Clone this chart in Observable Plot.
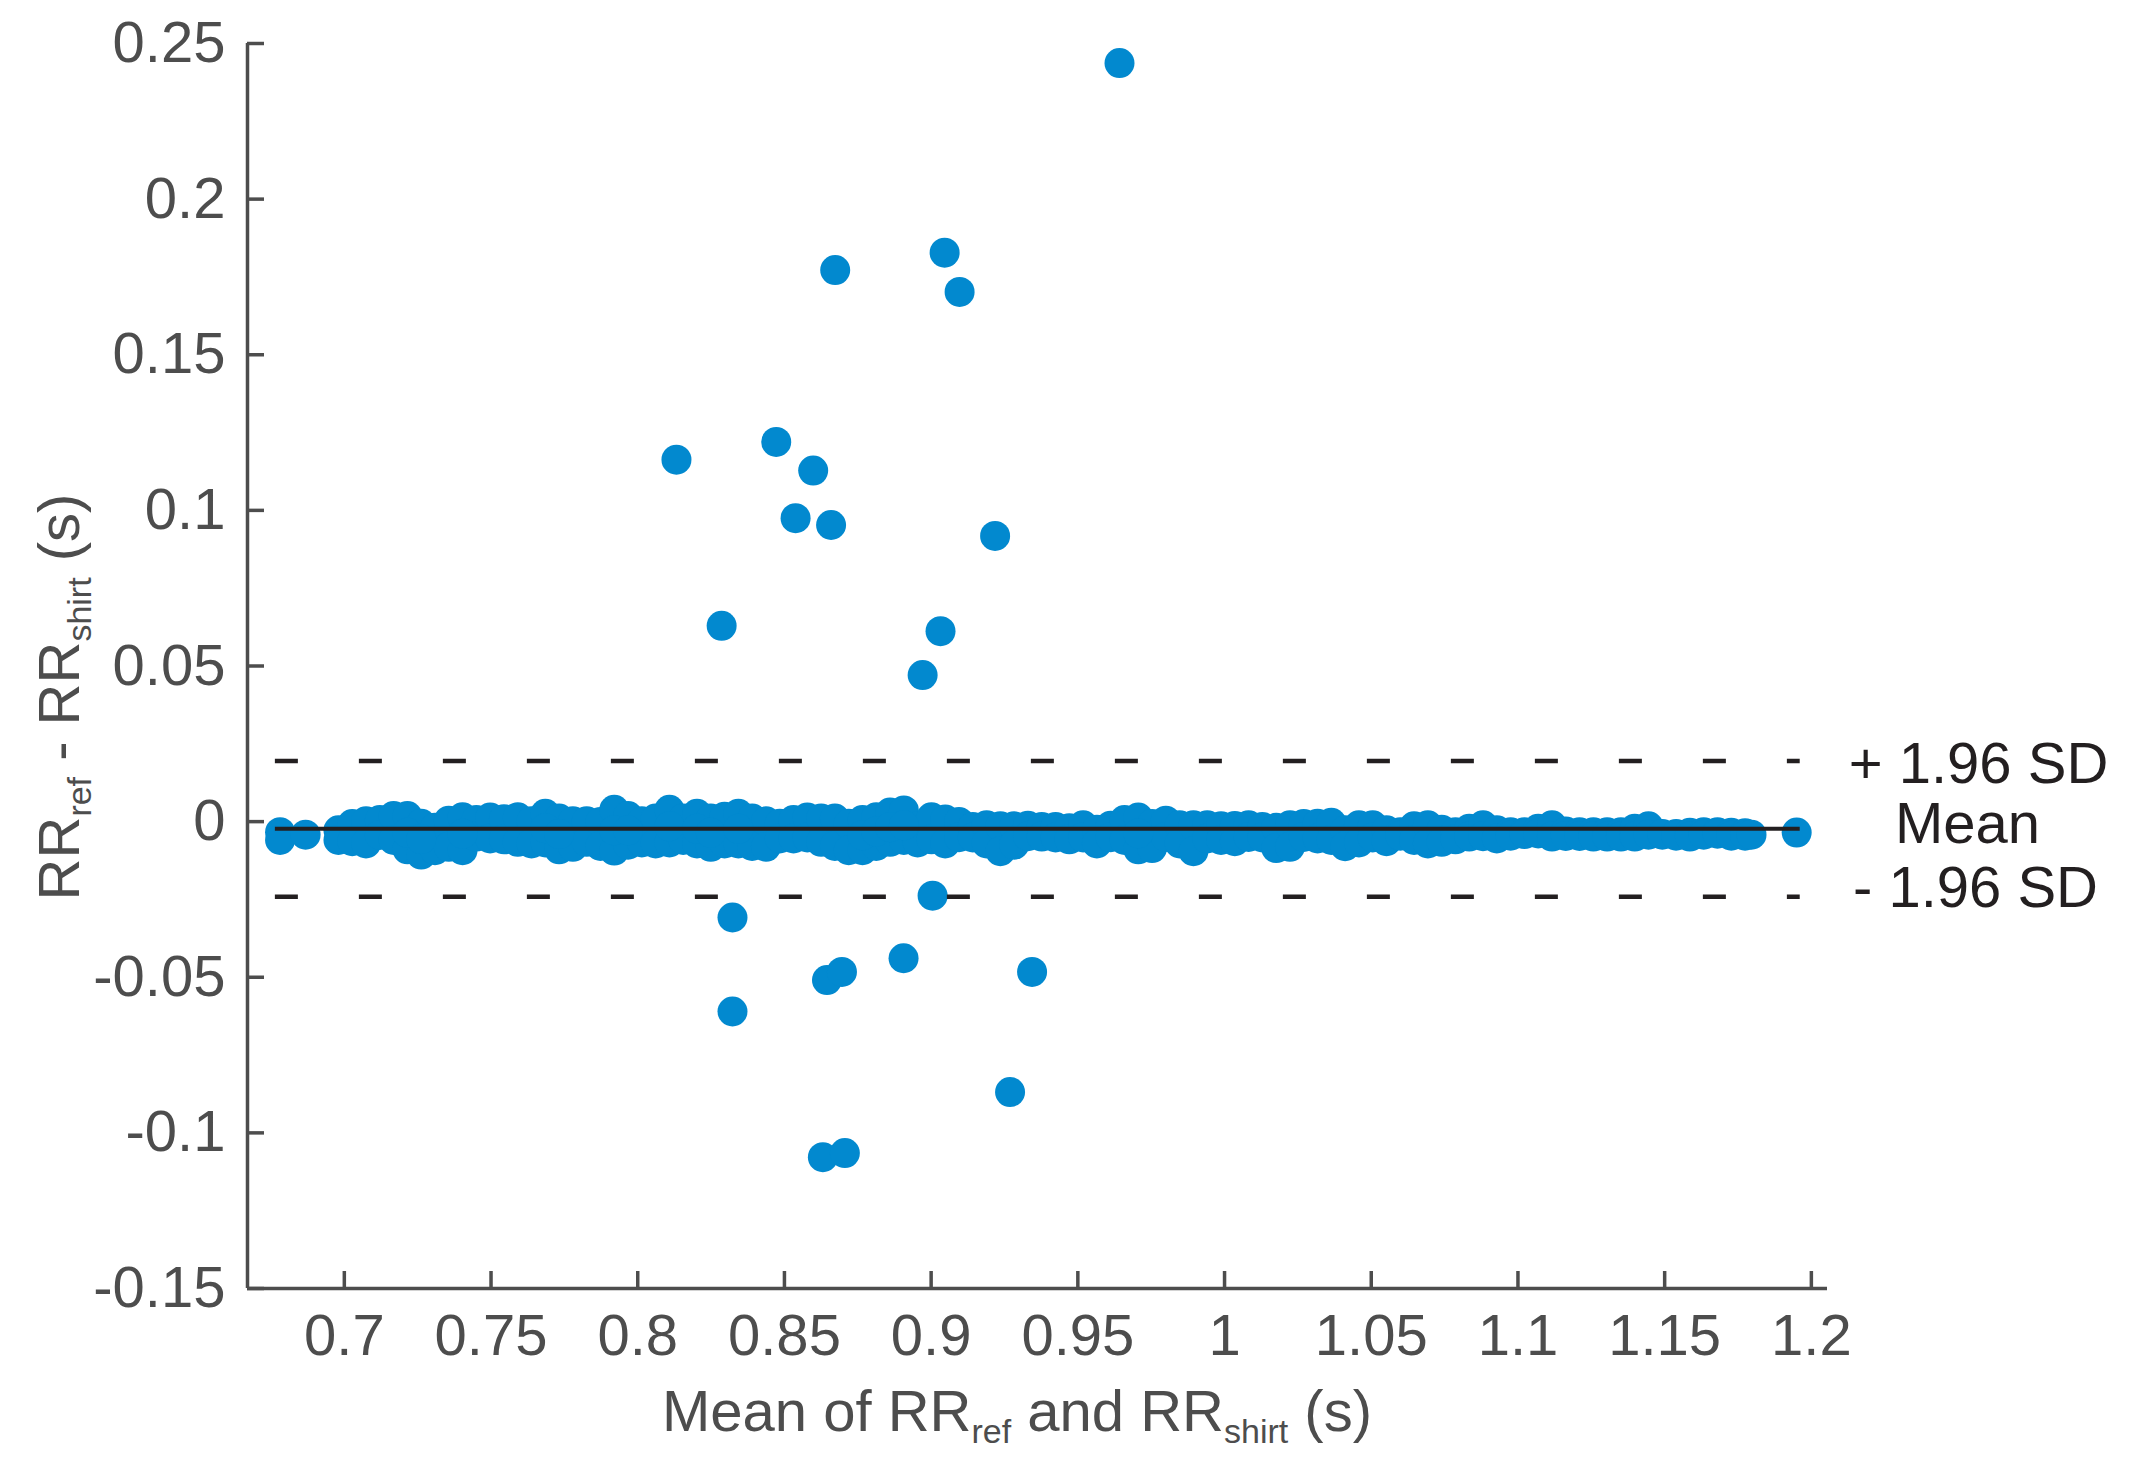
<!DOCTYPE html>
<html><head><meta charset="utf-8">
<script src="https://cdn.jsdelivr.net/npm/d3@7"></script>
<script src="https://cdn.jsdelivr.net/npm/@observablehq/plot@0.6"></script>
<style>html,body{margin:0;padding:0;background:#fff;}</style>
</head><body><div id="chart"></div>
<script>
// Axis settings
const xDomain = [0.667, 1.2055];
const yDomain = [-0.15, 0.25];
const xTicks = [0.7, 0.75, 0.8, 0.85, 0.9, 0.95, 1, 1.05, 1.1, 1.15, 1.2];
const yTicks = [-0.15, -0.1, -0.05, 0, 0.05, 0.1, 0.15, 0.2, 0.25];

// Bland-Altman lines
const meanDiff = -0.0023;
const upperLoA = 0.0195;
const lowerLoA = -0.0241;
const lineX = [0.6765, 1.1962];

// Outlying points
const outX = [0.9642,0.9046,0.8673,0.9097,0.8472,0.8132,0.8598,0.8538,0.8659,0.9218,0.8286,0.9032,0.8971,0.9005,0.8323,0.8645,0.8696,0.8906,0.9344,0.8323,0.9269,0.8631,0.8706];
const outY = [0.2437,0.1828,0.1772,0.1702,0.1220,0.1163,0.1128,0.0975,0.0953,0.0918,0.0629,0.0612,0.0471,-0.0238,-0.0308,-0.0509,-0.0483,-0.0439,-0.0483,-0.0610,-0.0869,-0.1078,-0.1065];

// Dense band of points near zero (upper and lower edge of the band)
const bandX = [
0.6980,0.7027,0.7074,0.7121,0.7168,0.7215,0.7262,0.7309,0.7356,0.7403,
0.7450,0.7497,0.7544,0.7591,0.7638,0.7685,0.7732,0.7779,0.7826,0.7873,
0.7920,0.7967,0.8014,0.8061,0.8108,0.8155,0.8202,0.8249,0.8296,0.8343,
0.8390,0.8437,0.8484,
0.8531,0.8578,0.8625,0.8672,0.8719,0.8766,0.8813,0.8860,0.8907,0.8954,
0.9001,0.9048,0.9095,0.9142,0.9189,0.9236,0.9283,0.9330,0.9377,0.9424,
0.9471,0.9518,0.9565,0.9612,0.9659,0.9706,0.9753,0.9800,0.9847,0.9894,
0.9941,0.9988,1.0035,1.0082,1.0129,1.0176,1.0223,1.0270,1.0317,
1.0364,1.0411,1.0458,1.0505,1.0552,1.0599,1.0646,1.0693,1.0740,1.0787,
1.0834,1.0881,1.0928,1.0975,1.1022,1.1069,1.1116,1.1163,1.1210,1.1257,
1.1304,1.1351,1.1398,1.1445,1.1492,1.1539,1.1586,1.1633,1.1680,1.1727,
1.1774];
const bandTop = [
-0.0028,-0.0008,0.0001,0.0005,0.0018,0.0018,-0.0007,-0.0020,0.0003,0.0014,
0.0005,0.0013,0.0008,0.0014,0.0001,0.0025,0.0010,0.0001,0.0001,-0.0001,
0.0038,0.0018,0.0001,0.0010,0.0038,0.0010,0.0025,0.0010,0.0016,0.0025,
0.0010,0.0001,-0.0007,
0.0005,0.0013,0.0010,0.0010,-0.0007,0.0005,0.0014,0.0029,0.0036,-0.0015,
0.0014,0.0007,-0.0001,-0.0017,-0.0012,-0.0015,-0.0015,-0.0013,-0.0017,-0.0017,
-0.0021,-0.0012,-0.0026,-0.0013,0.0005,0.0013,-0.0008,0.0003,-0.0012,-0.0012,
-0.0012,-0.0015,-0.0014,-0.0012,-0.0017,-0.0020,-0.0012,-0.0008,-0.0007,
-0.0004,-0.0028,-0.0012,-0.0012,-0.0028,-0.0034,-0.0015,-0.0012,-0.0026,-0.0034,
-0.0023,-0.0012,-0.0028,-0.0034,-0.0034,-0.0023,-0.0012,-0.0032,-0.0034,-0.0034,
-0.0034,-0.0034,-0.0023,-0.0015,-0.0042,-0.0040,-0.0036,-0.0034,-0.0034,-0.0036,
-0.0037];
const bandBottom = [
-0.0059,-0.0063,-0.0070,-0.0043,-0.0059,-0.0089,-0.0106,-0.0092,-0.0081,-0.0092,
-0.0048,-0.0054,-0.0057,-0.0065,-0.0070,-0.0067,-0.0089,-0.0081,-0.0065,-0.0078,
-0.0093,-0.0074,-0.0067,-0.0070,-0.0067,-0.0059,-0.0070,-0.0081,-0.0070,-0.0070,
-0.0078,-0.0081,-0.0054,
-0.0054,-0.0051,-0.0065,-0.0078,-0.0092,-0.0092,-0.0078,-0.0065,-0.0059,-0.0067,
-0.0057,-0.0070,-0.0050,-0.0051,-0.0070,-0.0095,-0.0074,-0.0047,-0.0048,-0.0051,
-0.0057,-0.0051,-0.0070,-0.0050,-0.0059,-0.0089,-0.0085,-0.0049,-0.0070,-0.0095,
-0.0054,-0.0059,-0.0063,-0.0049,-0.0051,-0.0085,-0.0081,-0.0049,-0.0054,
-0.0059,-0.0079,-0.0067,-0.0051,-0.0063,-0.0045,-0.0059,-0.0070,-0.0065,-0.0057,
-0.0048,-0.0047,-0.0054,-0.0045,-0.0040,-0.0038,-0.0048,-0.0046,-0.0046,-0.0048,
-0.0048,-0.0048,-0.0048,-0.0042,-0.0040,-0.0045,-0.0048,-0.0042,-0.0039,-0.0045,
-0.0045];
// Points inside the thicker parts of the band
const midX = [0.7215,0.7262,0.7403,0.7685,0.7732,0.7920,0.7967,0.8108,0.8202,0.8249,0.8343,0.8766,0.8813,0.8860,0.8907,0.9706];
const midY = [-0.0036,-0.0056,-0.0039,-0.0021,-0.0040,-0.0028,-0.0028,-0.0015,-0.0023,-0.0036,-0.0023,-0.0044,-0.0032,-0.0018,-0.0012,-0.0038];
// Points at both ends of the band
const edgeX = [0.6781, 0.6781, 0.6868, 1.1796, 1.1950];
const edgeY = [-0.0034, -0.0059, -0.0042, -0.0042, -0.0035];

const labelUpper = "+ 1.96 SD";
const labelMean = "Mean";
const labelLower = "- 1.96 SD";

// Build the point table
const points = [];
bandX.forEach((x, i) => { points.push({x, y: bandTop[i]}); points.push({x, y: bandBottom[i]}); });
midX.forEach((x, i) => points.push({x, y: midY[i]}));
edgeX.forEach((x, i) => points.push({x, y: edgeY[i]}));
outX.forEach((x, i) => points.push({x, y: outY[i]}));

const meanRow = [{y: meanDiff, x1: lineX[0], x2: lineX[1], label: labelMean}];
const upperRow = [{y: upperLoA, x1: lineX[0], x2: lineX[1], label: labelUpper}];
const lowerRow = [{y: lowerLoA, x1: lineX[0], x2: lineX[1], label: labelLower}];

const axisColor = "#4d4d4d";
const lineColor = "#231f20";
const dotColor = "#0289cf";

const chart = Plot.plot({
  width: 2133, height: 1463,
  marginLeft: 247, marginRight: 306, marginTop: 43, marginBottom: 175,
  style: {fontFamily: "'Liberation Sans', Arial, Helvetica, sans-serif", fontSize: "58px", color: axisColor, background: "#fff"},
  x: {domain: xDomain},
  y: {domain: yDomain},
  marks: [
    Plot.dot(points, {x: "x", y: "y", r: 15, fill: dotColor}),
    Plot.ruleY(meanRow, {y: "y", x1: "x1", x2: "x2", stroke: lineColor, strokeWidth: 4}),
    Plot.ruleY(upperRow.concat(lowerRow), {y: "y", x1: "x1", x2: "x2", stroke: lineColor, strokeWidth: 4.5, strokeDasharray: "23 61"}),
    Plot.ruleX([xDomain[0]], {stroke: axisColor, strokeWidth: 3.5}),
    Plot.ruleY([yDomain[0]], {stroke: axisColor, strokeWidth: 3.5}),
    Plot.axisY({ticks: yTicks, tickFormat: d => String(d), tickSize: -17, tickPadding: 39, strokeWidth: 3.5, label: null}),
    Plot.axisX({ticks: xTicks, tickFormat: d => String(d), tickSize: -17, tickPadding: 42, strokeWidth: 3.5, label: null}),
    Plot.text(upperRow, {y: "y", text: "label", frameAnchor: "right", textAnchor: "middle", dx: 151, dy: 4, fill: lineColor}),
    Plot.text(meanRow, {y: "y", text: "label", frameAnchor: "right", textAnchor: "middle", dx: 140, dy: -4, fill: lineColor}),
    Plot.text(lowerRow, {y: "y", text: "label", frameAnchor: "right", textAnchor: "middle", dx: 148, dy: -8, fill: lineColor})
  ]
});
document.getElementById("chart").appendChild(chart);

// Axis titles with subscripts
const svg = d3.select(chart);
const xTitle = [["Mean of RR", false], ["ref", true], [" and RR", false], ["shirt", true], [" (s)", false]];
const yTitle = [["RR", false], ["ref", true], [" - RR", false], ["shirt", true], [" (s)", false]];
function addTitle(sel, parts) {
  let sub = false;
  parts.forEach(([t, s]) => {
    const ts = sel.append("tspan").text(t);
    if (s && !sub) ts.attr("dy", 12).style("font-size", "34px");
    else if (s) ts.style("font-size", "34px");
    else if (!s && sub) ts.attr("dy", -12);
    sub = s;
  });
}
const xt = svg.append("text").attr("x", 1017).attr("y", 1431).attr("text-anchor", "middle")
  .attr("fill", axisColor).style("font-size", "58px");
addTitle(xt, xTitle);
const yt = svg.append("text").attr("transform", "translate(79,697) rotate(-90)").attr("text-anchor", "middle")
  .attr("fill", axisColor).style("font-size", "58px");
addTitle(yt, yTitle);
</script>
</body></html>
